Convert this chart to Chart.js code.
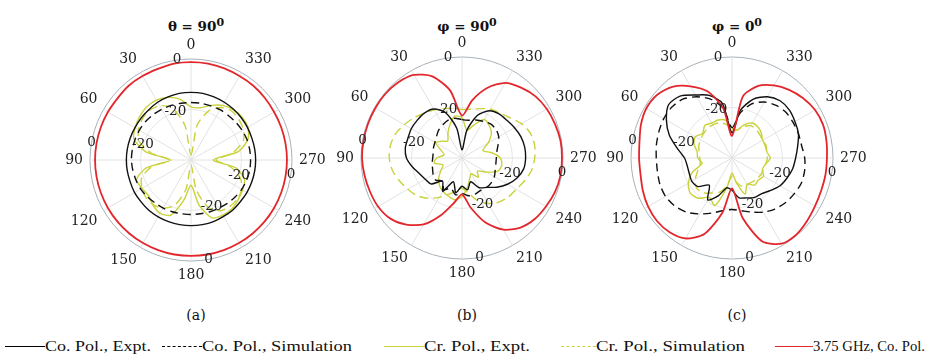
<!DOCTYPE html>
<html>
<head>
<meta charset="utf-8">
<script src="https://cdn.jsdelivr.net/npm/chart.js@4"></script>
<style>
  body { margin: 0; background: #fff; }
  #wrap { position: relative; width: 928px; height: 363px; overflow: hidden; font-family: "DejaVu Serif", serif; color: #111; }
  canvas { position: absolute; }
  .title { position: absolute; width: 200px; text-align: center; font-weight: bold; font-size: 13.5px; line-height: 1; }
  .title sup { font-size: 11px; line-height: 0; }
  .cap { position: absolute; width: 60px; text-align: center; font-size: 14px; }
  .leg { position: absolute; top: 338px; white-space: nowrap; display: flex; align-items: center; font-size: 14px; }
  .leg span.ln { display: inline-block; height: 0; }
  .leg span.tx { display: inline-block; font-family: "Liberation Serif", serif; font-size: 15px; transform-origin: left center; }
</style>
</head>
<body>
<div id="wrap">
  <canvas id="cA" width="276" height="244" style="left:58px;top:38px"></canvas>
  <canvas id="cB" width="276" height="244" style="left:329px;top:36px"></canvas>
  <canvas id="cC" width="276" height="244" style="left:599px;top:36px"></canvas>

  <div class="title" style="left:96px;top:20px">&theta; = 90<sup>0</sup></div>
  <div class="title" style="left:367px;top:20px">&phi; = 90<sup>0</sup></div>
  <div class="title" style="left:637px;top:20px">&phi; = 0<sup>0</sup></div>

  <div class="cap" style="left:166px;top:307px">(a)</div>
  <div class="cap" style="left:437px;top:307px">(b)</div>
  <div class="cap" style="left:707px;top:307px">(c)</div>

  <div class="leg" style="left:5px"><span class="ln" style="border-top:1.5px solid #000;width:40px"></span><span class="tx" data-w="106">Co. Pol., Expt.</span></div>
  <div class="leg" style="left:162px"><span class="ln" style="border-top:1.5px dashed #000;width:40px"></span><span class="tx" data-w="150">Co. Pol., Simulation</span></div>
  <div class="leg" style="left:384px"><span class="ln" style="border-top:1.5px solid #c9d23c;width:40px"></span><span class="tx" data-w="106">Cr. Pol., Expt.</span></div>
  <div class="leg" style="left:561px"><span class="ln" style="border-top:1.5px dashed #c9d23c;width:35px"></span><span class="tx" data-w="149">Cr. Pol., Simulation</span></div>
  <div class="leg" style="left:775px"><span class="ln" style="border-top:1.5px solid #e3262b;width:38px"></span><span class="tx" data-w="112">3.75 GHz, Co. Pol.</span></div>
</div>

<script>
// angles 0..350 step 10 (counter-clockwise from top), values in dB
const angles = [0,10,20,30,40,50,60,70,80,90,100,110,120,130,140,150,160,170,180,190,200,210,220,230,240,250,260,270,280,290,300,310,320,330,340,350];

// (a) theta = 90
const coExptA = [-13.2,-13.2,-13.4,-13.6,-14,-14.2,-14.4,-14.4,-14.4,-14.4,-14.4,-14.4,-14.2,-14.2,-14,-14,-14,-14,-14,-14,-14,-14.2,-14.2,-14.4,-14.4,-14.4,-14.4,-14.4,-14.4,-14.4,-14.2,-14,-13.8,-13.6,-13.4,-13.2];
const coSimA = [-17.2,-17.2,-17,-16.8,-16.6,-16.4,-16.4,-16.4,-16.4,-16.4,-16.6,-16.8,-17,-17.4,-17.8,-18,-18.2,-18.4,-18.4,-18.4,-18.2,-18,-17.6,-17.2,-16.8,-16.6,-16.4,-16.4,-16.4,-16.4,-16.6,-16.8,-17,-17,-17.2,-17.2];
const crExptA = [-19,-15.6,-13.6,-12.6,-12.6,-13.4,-14.4,-16,-22,-32,-22,-17,-17.6,-18,-16.6,-15.6,-16.8,-24,-30,-22,-15.6,-14.8,-14.8,-15.6,-16.4,-17.4,-22,-31.2,-21,-16,-14,-13.6,-14,-15,-17,-19];
const crSimA = [-38,-26,-18,-15.2,-14.4,-14.8,-16,-18,-24,-31.2,-24,-19.2,-17.6,-16.8,-16.8,-18,-20.8,-28,-38,-28,-20,-16.8,-16,-16,-16.8,-19.2,-24,-30,-23.2,-18,-16,-15.2,-14.8,-16,-19.2,-26];
const ghzA = [-1.2,-1.2,-1.6,-1.6,-1.6,-2,-2,-2,-2,-2,-2,-2,-2,-2,-2,-2,-2,-2,-2,-2,-2,-2,-2,-2,-2,-2,-2,-2,-2,-2,-2,-1.8,-1.6,-1.6,-1.4,-1.2];

// (b) phi = 90
const coExptB = [-36.8,-28,-20.8,-17.6,-16.8,-16.8,-16.8,-17.2,-17.2,-18,-20,-22,-23.2,-24,-28,-24.8,-30,-26,-28.8,-27.2,-30,-26.4,-24.8,-22,-19.2,-16.8,-15.2,-14.8,-14.8,-15.2,-16,-16.8,-17.2,-18.4,-22,-28.8];
const coSimB = [-24.8,-24,-24,-24.8,-25.6,-26.8,-27.6,-28,-28.4,-28.4,-28,-27.6,-26.8,-26.4,-28,-25.6,-27.2,-25.2,-26,-24.8,-24.8,-25.2,-24.8,-24.8,-25.2,-26,-26.4,-26.4,-26,-24.8,-23.2,-22.4,-22.4,-23.2,-24,-24.8];
const crExptB = [-24,-23.2,-26,-28.8,-31.2,-29.6,-28,-31.2,-32.8,-30,-28.8,-32,-30.4,-28,-26,-24.8,-24,-23.2,-24.8,-28,-31.2,-32.8,-30,-32,-28.8,-24.8,-24,-24.8,-28,-31.2,-28,-24.8,-23.2,-22.4,-26,-28.8];
const crSimB = [-20.8,-20,-19.2,-18,-16.8,-15.2,-13.6,-12,-11.2,-11.2,-12,-13.6,-15.2,-16.8,-19.2,-22,-24.8,-26.8,-28,-26,-22,-19.2,-17.2,-16,-15.2,-13.6,-12,-11.2,-10.8,-11.2,-12.8,-15.2,-16.8,-17.6,-19.2,-20.4];
const ghzB = [-23.2,-12.8,-5.6,-2,-0.8,-0.4,-0.4,-0.4,-0.4,-0.4,-0.8,-1.2,-1.6,-2.8,-5.6,-9.6,-16,-22,-25.6,-20,-12.8,-7.2,-4,-2.4,-1.6,-0.8,-0.4,-0.4,-0.4,-0.8,-1.2,-2,-3.6,-5.6,-10.4,-16.8];

// (c) phi = 0
const coExptC = [-30,-18,-13.6,-11.2,-8,-7.2,-10,-13.6,-18,-21.2,-22,-22,-21.6,-22.4,-26,-20.8,-24,-28,-27.2,-24,-23.2,-22,-21.6,-20,-18,-16.8,-15.6,-14.8,-13.6,-12,-11.2,-10.4,-10.4,-12,-15.2,-20.8];
const coSimC = [-28,-20,-15.2,-12,-9.6,-8.8,-8.8,-9.2,-9.6,-10,-10,-9.6,-9.6,-10.4,-12,-14.4,-16.8,-18.8,-19.6,-18.8,-17.2,-15.2,-13.6,-12.4,-11.6,-10.8,-10.8,-11.2,-12,-12,-12,-12,-12.8,-14.4,-17.2,-22];
const crExptC = [-28,-24.8,-24,-24,-23.2,-24.8,-23.2,-24,-26,-26.4,-28,-23.2,-20,-18.4,-19.2,-22,-20,-28,-34,-30,-24.8,-28,-26,-26.4,-25.6,-27.2,-26.4,-24.8,-26,-25.6,-26,-24.8,-24,-24,-26,-28.8];
const crSimC = [-28.8,-26.4,-25.2,-24.8,-24.8,-25.2,-25.6,-26,-26.8,-27.2,-27.2,-25.6,-23.2,-21.6,-22,-24,-25.6,-28.8,-32.8,-30.4,-28,-28,-27.6,-27.2,-26.8,-26.8,-26.4,-26,-26,-26,-26,-25.6,-25.2,-25.2,-26.8,-28.8];
const ghzC = [-31.2,-20,-12,-7.2,-3.2,-1.2,-0.8,-1.6,-2.8,-3.2,-3.2,-2.4,-1.6,-1.2,-1.6,-3.2,-8,-18,-28,-16,-4.8,-0.8,-0.4,-1.2,-2,-2.4,-2.4,-2.4,-2,-1.6,-2,-3.2,-4.8,-6.8,-9.6,-15.2];

// ring tick labels
const zeroLabelAngles = [8, 80, 190, 262];
const m20LabelAngles = [18, 72, 204, 252];

const RED = '#e3262b';
const YEL = '#c9d23c';
const FONT = '"DejaVu Serif", serif';

// radar goes clockwise, the plot goes counter-clockwise -> reorder
const order = angles.map((a, i) => (360 - i * 10) % 360);
function reorder(arr) {
    return order.map(a => arr[a / 10]);
}

const ringLabels = {
    id: 'ringLabels',
    afterDatasetsDraw(chart) {
        const s = chart.scales.r;
        const ctx = chart.ctx;
        ctx.save();
        ctx.font = '13.5px ' + FONT;
        ctx.fillStyle = '#222';
        ctx.textAlign = 'center';
        ctx.textBaseline = 'middle';
        const put = (list, v) => {
            list.forEach(a => {
                const p = s.getPointPosition((360 - a) / 10, s.getDistanceFromCenterForValue(v));
                ctx.fillText(String(v), p.x, p.y);
            });
        };
        put(zeroLabelAngles, 0);
        put(m20LabelAngles, -20);
        ctx.restore();
    }
};

function makePolar(id, coExpt, coSim, crExpt, crSim, ghz) {
    const ctx = document.getElementById(id).getContext('2d');
    const ds = (data, color, dash, width) => ({
        data: reorder(data),
        borderColor: color,
        borderWidth: width,
        borderDash: dash,
        fill: false,
        pointRadius: 0,
        tension: 0.25
    });
    return new Chart(ctx, {
        type: 'radar',
        data: {
            labels: order,
            datasets: [
                ds(ghz, RED, [], 1.8),
                ds(coExpt, '#111', [], 1.4),
                ds(coSim, '#111', [8, 5], 1.4),
                ds(crExpt, YEL, [], 1.4),
                ds(crSim, YEL, [9, 5], 1.4)
            ]
        },
        options: {
            responsive: false,
            animation: false,
            layout: { padding: 0 },
            plugins: { legend: { display: false }, tooltip: { enabled: false } },
            scales: {
                r: {
                    min: -40,
                    max: 0,
                    ticks: { display: false, stepSize: 20 },
                    grid: {
                        circular: true,
                        color: c => c.tick && c.tick.value === 0 ? '#a7b1b9' : '#e6e6e6',
                        lineWidth: 1
                    },
                    angleLines: {
                        color: c => c.label !== '' ? '#e2e2e2' : 'rgba(0,0,0,0)'
                    },
                    pointLabels: {
                        padding: 7,
                        color: '#222',
                        font: { family: FONT, size: 14, lineHeight: 1 },
                        callback: (label) => label % 30 === 0 ? String(label) : ''
                    }
                }
            }
        },
        plugins: [ringLabels]
    });
}

function fitLegend() {
    document.querySelectorAll('.leg span.tx').forEach(el => {
        const w = el.getBoundingClientRect().width;
        el.style.transform = 'scaleX(' + (Number(el.dataset.w) / w).toFixed(3) + ')';
    });
}

function drawAll() {
    fitLegend();
    makePolar('cA', coExptA, coSimA, crExptA, crSimA, ghzA);
    makePolar('cB', coExptB, coSimB, crExptB, crSimB, ghzB);
    makePolar('cC', coExptC, coSimC, crExptC, crSimC, ghzC);
}

Promise.all([
    document.fonts.load('14px "DejaVu Serif"'),
    document.fonts.load('15px "Liberation Serif"')
]).then(drawAll, drawAll);
</script>
</body>
</html>
